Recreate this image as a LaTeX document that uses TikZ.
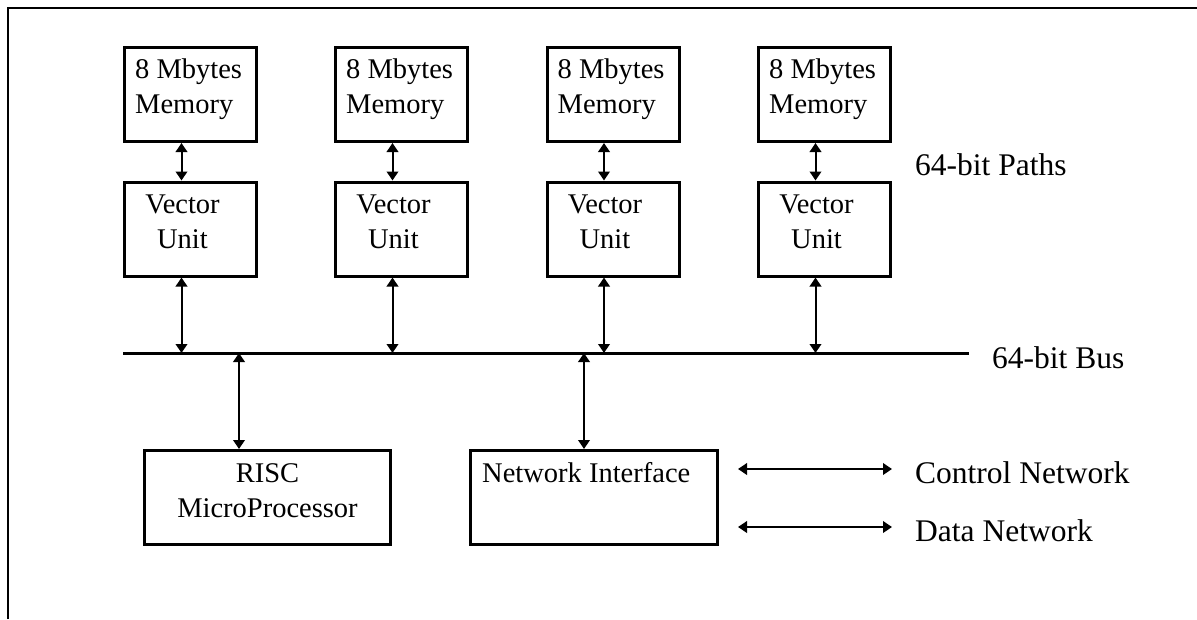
\documentclass[tikz,border=0pt]{standalone}
\usepackage{fontspec}
\setmainfont{Liberation Serif}
\usetikzlibrary{arrows.meta}
\begin{document}
\begin{tikzpicture}[x=1pt,y=-1pt,
  box/.style={draw,line width=3pt,minimum width=132pt,minimum height=94pt,inner sep=0pt},
  wide/.style={box,minimum width=246pt},
  txt/.style={font=\fontsize{28.5}{35}\selectfont,inner sep=0pt,align=left},
  tag/.style={txt,font=\fontsize{31.5}{38}\selectfont},
  link/.style={line width=2pt,{Triangle[width=11.5pt,length=9pt]}-{Triangle[width=11.5pt,length=9pt]}},
  busline/.style={line width=3pt},
  frame/.style={line width=2pt}]
\useasboundingbox (0,0) rectangle (1197,619);

% open frame round the board
\draw[frame] (8,619) -- (8,8) -- (1197,8);

% memory banks and vector units (two-line labels sit on their last baseline)
\foreach \i/\x in {1/190.5,2/401.5,3/613,4/824.5}{
  \node[box] (m\i) at (\x,94.5) {};
  \node[box] (v\i) at (\x,229) {};
  \node[txt,anchor=base west] (mt\i) at ([xshift=12pt]m\i.west |- 0,113) {8 Mbytes\\Memory};
  \node[txt,anchor=base,align=center] (vt\i) at ([xshift=-8pt]v\i.center |- 0,248) {Vector\\Unit};
}

% the shared bus
\coordinate (busL) at (123,353);
\coordinate (busR) at (969,353);
\draw[busline] (busL) -- (busR);

% processor and network interface
\node[wide] (risc) at (267.5,497.5) {};
\node[txt,anchor=base,align=center] (risct) at (267.5,517) {RISC\\MicroProcessor};
\node[wide,minimum width=247pt] (ni) at (594,497.5) {};
\node[txt,anchor=base west] (nit) at (482,482) {Network Interface};

% memory <-> vector unit paths and vector unit <-> bus links
\foreach \i in {1,...,4}{
  \draw[link] ([xshift=-9pt]m\i.south) -- ([xshift=-9pt]v\i.north);
  \draw[link] ([xshift=-9pt]v\i.south) -- ([xshift=-9pt]v\i.south |- busL);
}
\draw[link] ([xshift=-28.5pt]risc.north |- busL) -- ([xshift=-28.5pt]risc.north);
\draw[link] ([xshift=-10pt]ni.north |- busL) -- ([xshift=-10pt]ni.north);

% network links
\coordinate (cA) at (738,469);
\coordinate (cB) at (892,469);
\coordinate (dA) at (738,527);
\coordinate (dB) at (892,527);
\draw[link] (cA) -- (cB);
\draw[link] (dA) -- (dB);

% labels
\node[tag,anchor=base west] (paths) at (915,175) {64-bit Paths};
\node[tag,anchor=base west] (bus) at (992,368) {64-bit Bus};
\node[tag,anchor=base west] (cnet) at (915,483) {Control Network};
\node[tag,anchor=base west] (dnet) at (915,541) {Data Network};
\end{tikzpicture}
\end{document}
